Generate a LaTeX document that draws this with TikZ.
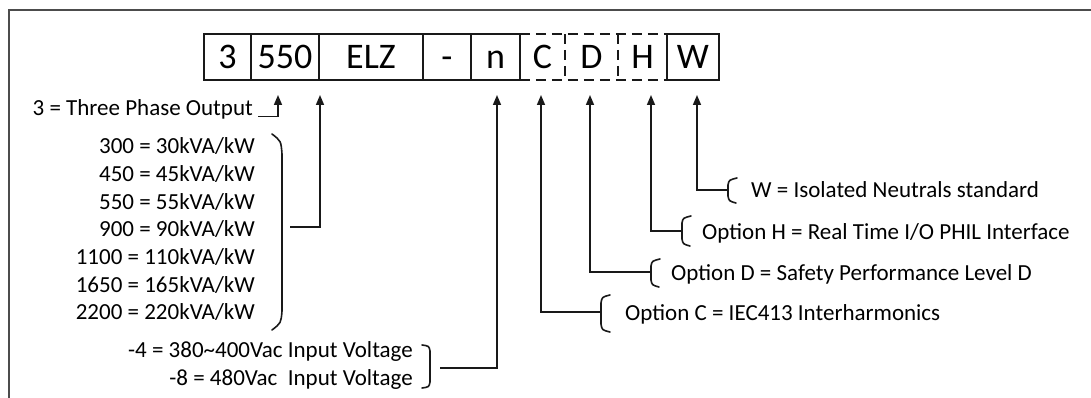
\documentclass[tikz,border=0pt]{standalone}
\usepackage{fontspec}
\setmainfont{Carlito}
\usetikzlibrary{arrows.meta}
\begin{document}
\begin{tikzpicture}[x=1pt,y=-1pt,
  lbl/.style={inner sep=0pt, font=\fontsize{23}{27.6}\selectfont, text=black},
  cell/.style={inner sep=0pt, minimum height=46pt, font=\fontsize{36}{40}\selectfont, text height=22.75pt, text depth=0pt, text=black},
  solidcell/.style={cell, draw=black!90, line width=1.6pt},
  dsh/.style={draw=black!90, line width=1.6pt, dash pattern=on 10pt off 6pt},
  conn/.style={draw=black!90, line width=1.6pt},
  arr/.style={conn, -{Triangle[length=10pt,width=8pt]}},
  brk/.style={draw=black!90, line width=1.6pt, line cap=round},
  frame/.style={line width=2.5pt, draw=black!70}]

\useasboundingbox[fill=white] (0,0) rectangle (1091,398);

% outer frame
\draw[frame] (9,398) -- (9,10) -- (1091,10);

% code cells
\node[solidcell, minimum width=47pt]  (c3)   at (227.5,57) {3};
\node[solidcell, minimum width=68pt]  (c550) at (285,57)   {550};
\node[solidcell, minimum width=104pt] (cELZ) at (371,57)   {ELZ};
\node[solidcell, minimum width=48pt]  (cdash) at (447,57)  {-};
\node[solidcell, minimum width=49pt]  (cn)   at (495.5,57) {n};
\node[cell, minimum width=45pt]       (cC)   at (542.5,57) {C};
\node[cell, minimum width=53pt]       (cD)   at (591.5,57) {D};
\node[cell, minimum width=49pt]       (cH)   at (642.5,57) {H};
\node[solidcell, minimum width=52pt]  (cW)   at (693,57)   {W};
\draw[dsh] (cC.north west) -- (cH.north east);
\draw[dsh] (cC.south west) -- (cH.south east);
\draw[dsh] (cC.north east) -- (cC.south east);
\draw[dsh] (cD.north east) -- (cD.south east);

% arrow tips
\coordinate (a3)   at (278,95);
\coordinate (a550) at (320,95);
\coordinate (an)   at (497,95);
\coordinate (aC)   at (541,95);
\coordinate (aD)   at (590,95);
\coordinate (aH)   at (651,95);
\coordinate (aW)   at (697,95);

% left labels
\node[lbl, anchor=base east] (l3) at (253,115.5) {3 = Three Phase Output};
\foreach \t [count=\i] in {300 = 30kVA/kW, 450 = 45kVA/kW, 550 = 55kVA/kW, 900 = 90kVA/kW, 1100 = 110kVA/kW, 1650 = 165kVA/kW, 2200 = 220kVA/kW}
  \node[lbl, anchor=base east] (list\i) at (255,{126.4+27.6*\i}) {\t};
\node[lbl, anchor=base east] (v4) at (413,357.5) {-4 = 380\textasciitilde400Vac Input Voltage};
\node[lbl, anchor=base east] (v8) at (413,385.5) {-8 = 480Vac\ \ Input Voltage};

% right labels
\node[lbl, anchor=base west] (lW) at (751,197)   {W = Isolated Neutrals standard};
\node[lbl, anchor=base west] (lH) at (702,239)   {Option H = Real Time I/O PHIL Interface};
\node[lbl, anchor=base west] (lD) at (671,280.5) {Option D = Safety Performance Level D};
\node[lbl, anchor=base west] (lC) at (625,320.5) {Option C = IEC413 Interharmonics};

% brackets
\draw[brk] (272,134) .. controls (281,141) .. (282,154) -- (282,311) .. controls (281,323) .. (272,330);
\draw[brk] (422,345) .. controls (429,346) .. (430,351) -- (430,382) .. controls (429,387) .. (422,388);
\draw[brk] (737,178) .. controls (729,180) .. (728,185) -- (728,196) .. controls (729,201) .. (736,203);
\draw[brk] (691,216) .. controls (683,218) .. (682,223) -- (682,239) .. controls (683,244) .. (690,246);
\draw[brk] (660,259) .. controls (652,261) .. (651,266) -- (651,280) .. controls (652,285) .. (659,287);
\draw[brk] (610,295) .. controls (602,297) .. (601,303) -- (601,324) .. controls (602,330) .. (610,332);

% connector start points
\coordinate (b550) at (290,227);
\coordinate (bV)   at (440,368);
\coordinate (bC)   at (601,312);
\coordinate (bD)   at (651,272);
\coordinate (bH)   at (682,231);
\coordinate (bW)   at (728,190);

% connectors
\draw[arr] ([xshift=5pt,yshift=-1pt]l3.base east) -| (a3);
\draw[arr] (b550) -| (a550);
\draw[arr] (bV) -| (an);
\draw[arr] (bC) -| (aC);
\draw[arr] (bD) -| (aD);
\draw[arr] (bH) -| (aH);
\draw[arr] (bW) -| (aW);
\end{tikzpicture}
\end{document}
